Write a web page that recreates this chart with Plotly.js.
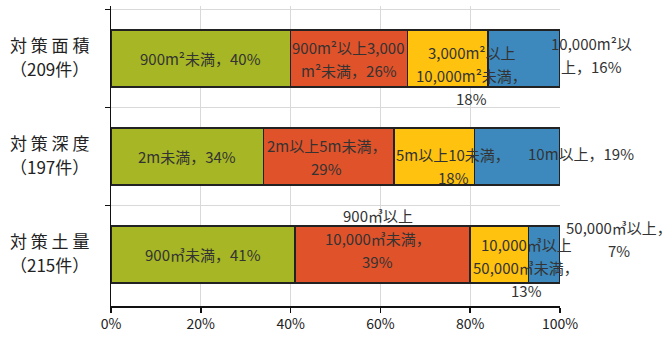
<!DOCTYPE html>
<html>
<head>
<meta charset="utf-8">
<script src="https://cdn.plot.ly/plotly-3.0.1.min.js"></script>
<style>html,body{margin:0;padding:0;background:#fff;}</style>
</head>
<body>
<div id="chart" style="width:672px;height:340px"></div>
<script>
// Measures (rows), top to bottom
const measures = ['対策面積', '対策深度', '対策土量'];
const counts = ['（209件）', '（197件）', '（215件）'];

// Share of each size band per measure, in percent
const band1 = [40, 34, 41];
const band2 = [26, 29, 39];
const band3 = [18, 18, 13];
const band4 = [16, 19, 7];

// Segment label texts; '|' marks a line break, {v} is the share
const label1 = ['900m²未満，{v}%', '2m未満，{v}%', '900㎥未満，{v}%'];
const label2 = ['900m²以上3,000|m²未満，{v}%', '2m以上5m未満，|{v}%', '900㎥以上|10,000㎥未満，|{v}%'];
const label3 = ['3,000m²以上|10,000m²未満，|{v}%', '5m以上10未満，|{v}%', '10,000㎥以上|50,000㎥未満，|{v}%'];
const label4 = ['10,000m²以|上，{v}%', '10m以上，{v}%', '50,000㎥以上，|{v}%'];

// X ticks
const tickVals = [0, 20, 40, 60, 80, 100];
const tickText = tickVals.map(v => v + '%');

const bands = [band1, band2, band3, band4];
const labels = [label1, label2, label3, label4];
const colors = ['#A6B624', '#E0522A', '#FFC20F', '#3D89BD'];

// Pixel nudges for the label blocks [band][measure] -> [dx, dy]
const nudges = [
  [[0, 0], [0, 0], [0, 0]],
  [[0, 0], [-2, 0], [-5, 16]],
  [[24, -17], [19, -9], [27, -13]],
  [[67, 4], [64, 3], [75, 16]]
];
const lineGap = 23;

const traces = bands.map((vals, b) => ({
  type: 'bar',
  orientation: 'h',
  x: vals,
  y: measures,
  marker: {color: colors[b], line: {color: '#222', width: 1.5}},
  hoverinfo: 'skip',
  showlegend: false
}));

const annotations = [];
measures.forEach((m, i) => {
  // Row caption: spaced name over the case count
  const spaced = m.split('').join(' ');
  [[spaced, 14], [counts[i], -10]].forEach(([t, dy]) => {
    annotations.push({
      x: 0, xref: 'paper', y: m, yref: 'y',
      text: t, showarrow: false,
      xanchor: 'center', yanchor: 'middle',
      xshift: -62, yshift: dy, borderpad: 0,
      font: {size: 17, color: '#222'}
    });
  });

  let start = 0;
  bands.forEach((vals, b) => {
    const v = vals[i];
    const centre = start + v / 2;
    start += v;
    const lines = labels[b][i].replace('{v}', v).split('|');
    const [dx, dy] = nudges[b][i];
    lines.forEach((ln, k) => {
      annotations.push({
        x: centre, y: m, xref: 'x', yref: 'y',
        text: ln, showarrow: false,
        xanchor: 'center', yanchor: 'middle',
        xshift: dx,
        yshift: dy - (k - (lines.length - 1) / 2) * lineGap,
        font: {size: 15, color: '#333'}
      });
    });
  });
});

const layout = {
  width: 672, height: 340,
  margin: {l: 111, r: 112, t: 6, b: 34, pad: 0},
  paper_bgcolor: '#fff', plot_bgcolor: '#fff',
  font: {family: '"Noto Sans CJK JP", "Noto Sans", sans-serif', color: '#222'},
  barmode: 'stack',
  bargap: 0.42,
  xaxis: {
    range: [0, 100], tickmode: 'array', tickvals: tickVals, ticktext: tickText,
    showgrid: true, gridcolor: '#d9d9d9', gridwidth: 1,
    zeroline: false, showline: true, linecolor: '#111', linewidth: 1.5,
    ticks: 'outside', ticklen: 5, tickcolor: '#111', tickwidth: 1.5,
    tickfont: {size: 14, color: '#222'}, fixedrange: true
  },
  yaxis: {
    type: 'category', categoryarray: measures, autorange: 'reversed', tickson: 'boundaries',
    showgrid: true, gridcolor: '#d9d9d9', gridwidth: 1,
    zeroline: false, showline: true, linecolor: '#111', linewidth: 1.5,
    ticks: 'outside', ticklen: 5, tickcolor: '#111', tickwidth: 1.5,
    showticklabels: false, fixedrange: true
  },
  annotations: annotations
};

Plotly.newPlot('chart', traces, layout, {displayModeBar: false, staticPlot: true});
</script>
</body>
</html>
